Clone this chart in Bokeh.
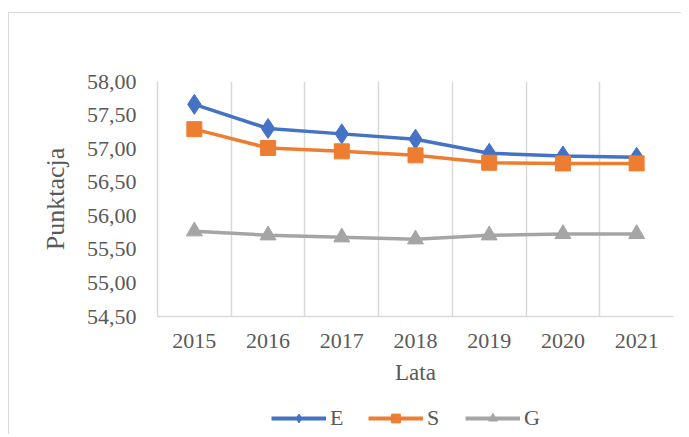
from bokeh.plotting import figure
from bokeh.layouts import column
from bokeh.models import FixedTicker, Legend, LegendItem, Range1d
from bokeh.embed import file_html
from bokeh.resources import INLINE

years = ["2015", "2016", "2017", "2018", "2019", "2020", "2021"]
E = [57.66, 57.30, 57.22, 57.14, 56.93, 56.89, 56.87]
S = [57.29, 57.01, 56.96, 56.90, 56.79, 56.78, 56.78]
G = [55.77, 55.71, 55.68, 55.65, 55.71, 55.73, 55.73]
y_ticks = [54.5, 55.0, 55.5, 56.0, 56.5, 57.0, 57.5, 58.0]

x = list(range(len(years)))
FONT = "Liberation Serif"
GRID = "#d9d9d9"
TXT = "#595959"

p = figure(frame_width=516, frame_height=235, output_backend="svg", toolbar_location=None,
           x_range=(-0.5, len(years) - 0.5), y_range=(y_ticks[0], y_ticks[-1]),
           min_border_left=148, min_border_right=8, min_border_top=68, min_border_bottom=84)
p.outline_line_color = None

p.xaxis.ticker = FixedTicker(ticks=x)
p.xaxis.major_label_overrides = {i: y for i, y in enumerate(years)}
p.xgrid.ticker = FixedTicker(ticks=[i + 0.5 for i in x])
p.xgrid.grid_line_color = GRID
p.xgrid.grid_line_width = 1.5
p.ygrid.grid_line_color = None

p.yaxis.ticker = FixedTicker(ticks=y_ticks)
p.yaxis.major_label_overrides = {v: f"{v:.2f}".replace(".", ",") for v in y_ticks}

for ax in (p.xaxis[0], p.yaxis[0]):
    ax.axis_line_color = GRID
    ax.axis_line_width = 1.5
    ax.major_tick_line_color = None
    ax.minor_tick_line_color = None
    ax.major_tick_out = 0
    ax.major_tick_in = 0
    ax.major_label_text_font = FONT
    ax.major_label_text_font_size = "22px"
    ax.major_label_text_color = TXT
    ax.axis_label_text_font = FONT
    ax.axis_label_text_font_size = "23px"
    ax.axis_label_text_font_style = "normal"
    ax.axis_label_text_color = TXT

p.yaxis.major_label_standoff = 21
p.yaxis.axis_label = "Punktacja"
p.yaxis.axis_label_text_font_size = "26px"
p.yaxis.axis_label_standoff = 14
p.xaxis.major_label_standoff = 17
p.xaxis.axis_label = "Lata"
p.xaxis.axis_label_standoff = 9

series = [("E", E, "#4472C4", "diamond", 20, 13), ("S", S, "#ED7D31", "square", 15, 13),
          ("G", G, "#A5A5A5", "triangle", 16, 14)]
for name, vals, col, mk, sz, _ in series:
    p.line(x, vals, line_color=col, line_width=3.5)
    p.scatter(x, vals, marker=mk, size=sz, fill_color=col, line_color=col)

# legend strip below the chart (its renderers lie outside its visible range)
p2 = figure(width=672, height=34, output_backend="svg", toolbar_location=None,
            x_range=Range1d(100, 101), y_range=Range1d(0, 1),
            min_border=0)
p2.axis.visible = False
p2.grid.grid_line_color = None
p2.outline_line_color = None
items = []
for name, vals, col, mk, sz, lsz in series:
    l = p2.line(x, vals, line_color=col, line_width=4)
    m = p2.scatter(x, vals, marker=mk, size=lsz, fill_color=col, line_color=col)
    items.append(LegendItem(label=name, renderers=[l, m]))

leg = Legend(items=items, orientation="horizontal", location=(114, 3))
leg.border_line_color = None
leg.background_fill_alpha = 0
leg.label_text_font = FONT
leg.label_text_font_size = "22px"
leg.label_text_color = TXT
leg.glyph_width = 55
leg.glyph_height = 22
leg.label_standoff = 4
leg.spacing = 18
leg.margin = 0
leg.padding = 4
p2.add_layout(leg)

layout = column(p, p2, spacing=0)
layout.styles = {"border-left": "1px solid #d9d9d9", "border-top": "1px solid #d9d9d9",
                 "margin-top": "12px", "margin-left": "8px"}

open("out.html", "w").write(file_html(layout, INLINE))
